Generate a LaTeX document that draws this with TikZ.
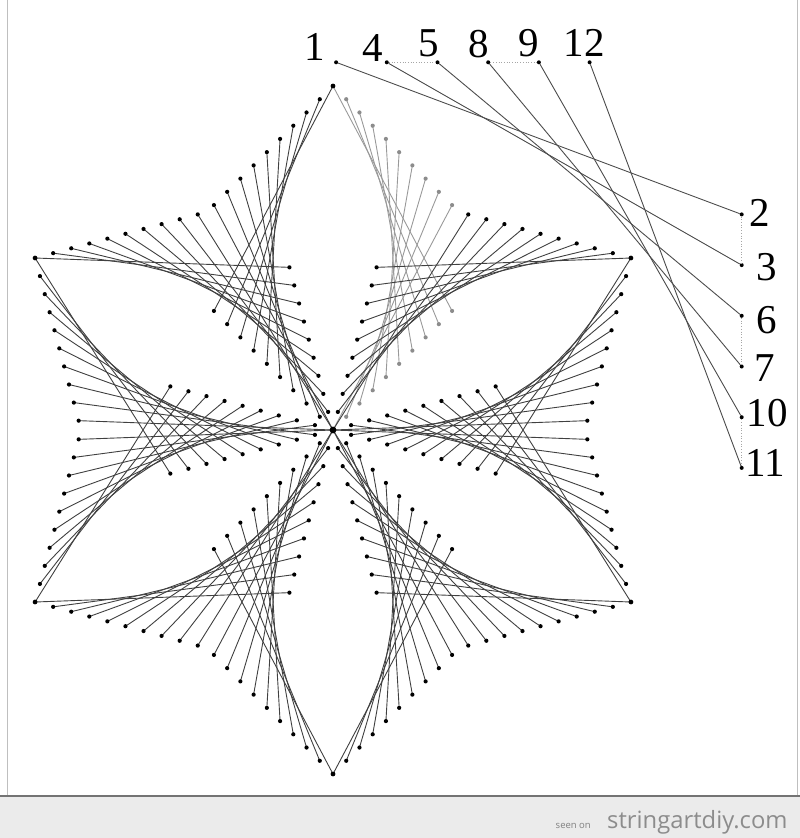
\documentclass[tikz,border=0pt]{standalone}
\usepackage{fontspec}
\setmainfont{Liberation Serif}
\newfontfamily\sitefont{Open Sans}
\usetikzlibrary{positioning}
\tikzset{nail/.style={circle,fill=black,inner sep=0pt,minimum size=4pt}}
\tikzset{thread/.style={draw=black!75,line width=0.9pt},
    lightthread/.style={draw=black!40,line width=0.9pt},
    legendline/.style={draw=black!70,line width=0.9pt},
    behind/.style={draw=black!35,dotted,line width=0.7pt},
    num/.style={font=\fontsize{41}{41}\selectfont,inner sep=0pt}}

\begin{document}
\begin{tikzpicture}[x=1pt,y=-1pt]
    \useasboundingbox (0,0) rectangle (800,838);
    % nails: two lines at every tip, two lines at the centre for each petal
    \foreach \k in {0,...,5}{
        \pgfmathsetmacro{\th}{90+60*\k}
        \foreach \a/\b/\side in {135/45/l,-135/-45/r}{
            \foreach \i in {0,...,9}{
                \pgfmathsetmacro{\vx}{333+344*cos(\th)+\i*18.71*cos(\th+(\a))}
                \pgfmathsetmacro{\vy}{430-344*sin(\th)-\i*18.71*sin(\th+(\a))}
                \pgfmathsetmacro{\ox}{333+\i*18.71*cos(\th+(\b))}
                \pgfmathsetmacro{\oy}{430-\i*18.71*sin(\th+(\b))}
                \coordinate (v\k\side\i) at (\vx,\vy);
                \coordinate (o\k\side\i) at (\ox,\oy);
            }
        }
    }
    % strings: nail i at the tip goes to nail 9-i at the centre
    \foreach \k/\side/\look in {0/r/lightthread,0/l/thread,1/l/thread,1/r/thread,
            2/l/thread,2/r/thread,3/l/thread,3/r/thread,4/l/thread,4/r/thread,
            5/l/thread,5/r/thread}{
        \foreach \i in {0,...,9}{
            \pgfmathtruncatemacro{\j}{9-\i}
            \draw[\look] (v\k\side\i) -- (o\k\side\j);
        }
    }
    \foreach \k/\side/\col in {0/r/black!45,0/l/black,1/l/black,1/r/black,
            2/l/black,2/r/black,3/l/black,3/r/black,4/l/black,4/r/black,
            5/l/black,5/r/black}
        \foreach \i in {1,...,9}{
            \fill[\col] (v\k\side\i) circle (2.1pt);
            \fill[\col] (o\k\side\i) circle (2.1pt);
        }
    \foreach \k in {0,...,5}
        \fill (v\k l0) circle (2.4pt);
    \fill (o0l0) circle (3.4pt);

    % legend: order of winding
    \foreach \n/\k in {1/8,4/7,5/6,8/5,9/4,12/3}
        \node[nail] (n\n) at (741.7-\k*50.7,62.3) {};
    \foreach \n/\k in {2/3,3/4,6/5,7/6,10/7,11/8}
        \node[nail] (n\n) at (741.7,62.3+\k*50.7) {};
    \foreach \p/\q in {4/5,8/9,2/3,6/7,10/11}
        \draw[behind] (n\p) -- (n\q);
    \foreach \p/\q in {1/2,4/3,5/6,8/7,9/10,12/11}
        \draw[legendline] (n\p) -- (n\q);
    \foreach \n/\x/\y in {1/315/47,4/373/48,5/429/43,8/479/44,9/529/43,12/584/43,
            2/760/213,3/767/267,6/767/320,7/765/368,10/767/413,11/765/463}
        \node[num] (lab\n) at (\x,\y) {\n};

    % frame and footer
    \draw[black!25] (7,0) -- (7,795);
    \draw[black!25] (797,0) -- (797,795);
    \fill[black!8] (0,797) rectangle (800,838);
    \draw[black!55,line width=1.5pt] (0,796) -- (800,796);
    \node[font=\sitefont\fontsize{9.5}{9.5}\selectfont,text=black!50,anchor=base east,inner sep=0pt] (seen) at (591,828) {seen on};
    \node[font=\sitefont\fontsize{23.8}{23.8}\selectfont,text=black!45,inner sep=0pt] (site) [right=16pt of seen.base east,anchor=base west] {stringartdiy.com};
\end{tikzpicture}
\end{document}
